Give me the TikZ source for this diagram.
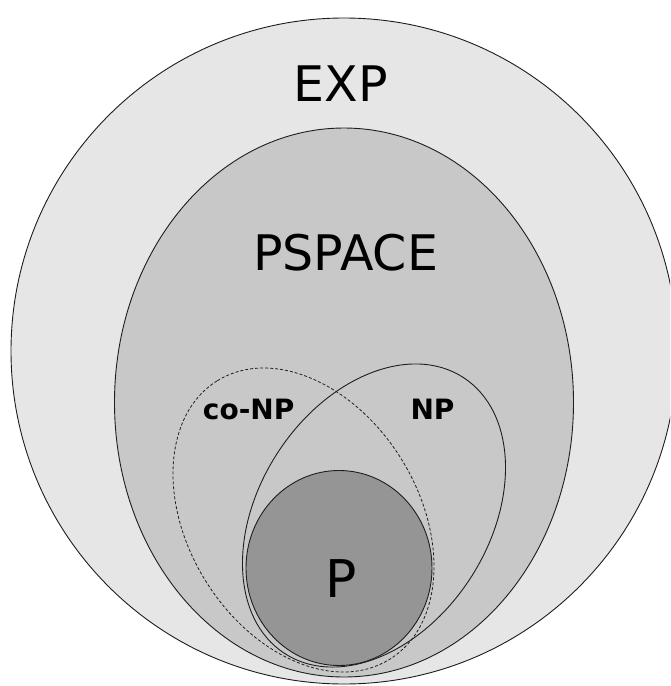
\documentclass[tikz,border=0pt]{standalone}
\usepackage{fontspec}
\setmainfont{DejaVu Sans}
\definecolor{expfill}{HTML}{E6E6E6}
\definecolor{psfill}{HTML}{C8C8C8}
\definecolor{pfill}{HTML}{959595}
\definecolor{edge}{HTML}{1E1E1E}
\begin{document}
\begin{tikzpicture}[x=1pt,y=-1pt,
  setline/.style={draw=edge,line width=0.9pt},
  bigtxt/.style={inner sep=0pt,anchor=base,font=\fontsize{49}{55}\selectfont},
  midtxt/.style={inner sep=0pt,anchor=base,font=\fontsize{28}{32}\selectfont\bfseries},
  ptxt/.style={inner sep=0pt,anchor=base,font=\fontsize{52}{58}\selectfont}]
\useasboundingbox (0,0) rectangle (670,686);
\clip (0,0) rectangle (670,686);
% EXP
\fill[white] (0,0) rectangle (670,686);
\filldraw[setline,fill=expfill] (344,351) circle [radius=333];
% PSPACE
\filldraw[setline,fill=psfill] (344,402.5) ellipse [x radius=229.5, y radius=274.5];
% co-NP (dashed)
\draw[draw=edge,line width=0.8pt,dash pattern=on 3pt off 2pt,rotate around={121.7:(303.5,520)}]
  (303.5,520) ellipse [x radius=163.8, y radius=115.3];
% NP
\draw[setline,rotate around={57.1:(374,515.5)}]
  (374,515.5) ellipse [x radius=164.4, y radius=115];
% P
\filldraw[setline,fill=pfill] (339,568) ellipse [x radius=93, y radius=97.5];
% labels
\node[bigtxt] (exp) at (341,101) {EXP};
\node[bigtxt] (pspace) at (345.5,270) {PSPACE};
\node[midtxt] (conp) at (248.7,419.3) {co-NP};
\node[midtxt] (np) at (432.5,419.3) {NP};
\node[ptxt] (p) at (341.5,597) {P};
\end{tikzpicture}
\end{document}
